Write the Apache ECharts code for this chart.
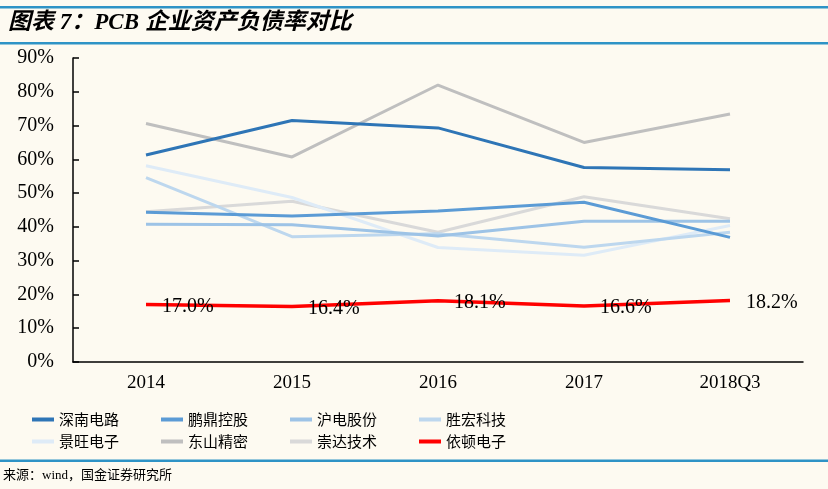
<!DOCTYPE html>
<html><head><meta charset="utf-8">
<script src="https://cdn.jsdelivr.net/npm/echarts@6/dist/echarts.min.js"></script>
<style>
html,body{margin:0;padding:0;background:#FDFAF1;}
#c{width:828px;height:489px;}
</style></head>
<body><div id="c"></div>
<script>
const categories = ['2014','2015','2016','2017','2018Q3'];
const yTicks = [0,10,20,30,40,50,60,70,80,90];
const names = ['深南电路','鹏鼎控股','沪电股份','胜宏科技','景旺电子','东山精密','崇达技术','依顿电子'];
const shennan  = [61.3, 71.5, 69.3, 57.6, 56.9];
const pengding = [44.3, 43.2, 44.7, 47.3, 36.9];
const hudian   = [40.8, 40.6, 37.3, 41.7, 41.7];
const shenghong= [54.6, 37.1, 38.0, 34.0, 38.4];
const jingwang = [58.1, 48.7, 33.9, 31.6, 40.4];
const dongshan = [70.6, 60.7, 82.0, 65.0, 73.4];
const chongda  = [44.5, 47.6, 38.4, 48.9, 42.4];
const yidun    = [17.0, 16.4, 18.1, 16.6, 18.2];
const seriesValues = [shennan, pengding, hudian, shenghong, jingwang, dongshan, chongda, yidun];
const colors = ['#2E75B6','#5B9BD5','#9DC3E6','#BDD7EE','#DEEBF7','#BFBFBF','#D9D9D9','#FF0000'];

const serif = '"Liberation Serif","DejaVu Serif",serif';
const cjk = '"Noto Sans CJK SC","Noto Sans",sans-serif';

const series = names.map((n,i)=>({
  name:n, type:'line', data:seriesValues[i],
  symbol: i===7 ? 'circle' : 'none', symbolSize: 0, showSymbol: i===7,
  lineStyle:{width: i===7?3.5:3, color:colors[i]},
  itemStyle:{color:colors[i]},
  z: i===7?10:(8-i),
  label: i===7 ? {show:true, position:'right', distance:16, offset:[0,2], color:'#000',
    fontFamily:serif, fontSize:20, formatter:p=>p.value.toFixed(1)+'%'} : {show:false}
}));

const legendCommon = {left:32, padding:0, itemWidth:22, itemHeight:4, icon:'rect', itemGap:42,
  textStyle:{fontFamily:cjk, fontSize:15, color:'#000'}};

const chart = echarts.init(document.getElementById('c'));
chart.setOption({
  backgroundColor:'#FDFAF1',
  animation:false,
  color:colors,
  grid:{left:73, right:25, top:58, bottom:127, containLabel:false},
  xAxis:{type:'category', data:categories, boundaryGap:true,
    axisLine:{lineStyle:{color:'#000', width:1.5}},
    axisTick:{inside:true, length:6, lineStyle:{color:'#000', width:1.5}},
    axisLabel:{color:'#000', fontFamily:serif, fontSize:19, margin:12}},
  yAxis:{type:'value', min:yTicks[0], max:yTicks[yTicks.length-1], interval:10,
    axisLine:{show:true, lineStyle:{color:'#000', width:1.5}},
    axisTick:{show:true, inside:true, length:6, lineStyle:{color:'#000', width:1.5}},
    splitLine:{show:false},
    axisLabel:{color:'#000', fontFamily:serif, fontSize:20, margin:19, formatter:'{value}%'}},
  legend:[
    Object.assign({data:names.slice(0,4), top:412}, legendCommon),
    Object.assign({data:names.slice(4), top:434}, legendCommon)
  ],
  graphic:[
    {type:'rect', shape:{x:0,y:6,width:828,height:2.5}, style:{fill:'#2E93C6'}},
    {type:'rect', shape:{x:0,y:42,width:828,height:2.5}, style:{fill:'#2E93C6'}},
    {type:'text', left:8, top:12, style:{text:'图表 7：PCB 企业资产负债率对比', fontFamily:'"Liberation Serif","Noto Sans CJK SC",serif', fontSize:23, fontWeight:'bold', fontStyle:'italic', fill:'#000'}},
    {type:'rect', shape:{x:0,y:459.5,width:828,height:2.5}, style:{fill:'#2E93C6'}},
    {type:'text', left:3, top:469, style:{text:'来源：wind，国金证券研究所', fontFamily:'"Liberation Serif","Noto Sans CJK SC",serif', fontSize:13, fill:'#000'}}
  ],
  series:series
});
</script></body></html>
